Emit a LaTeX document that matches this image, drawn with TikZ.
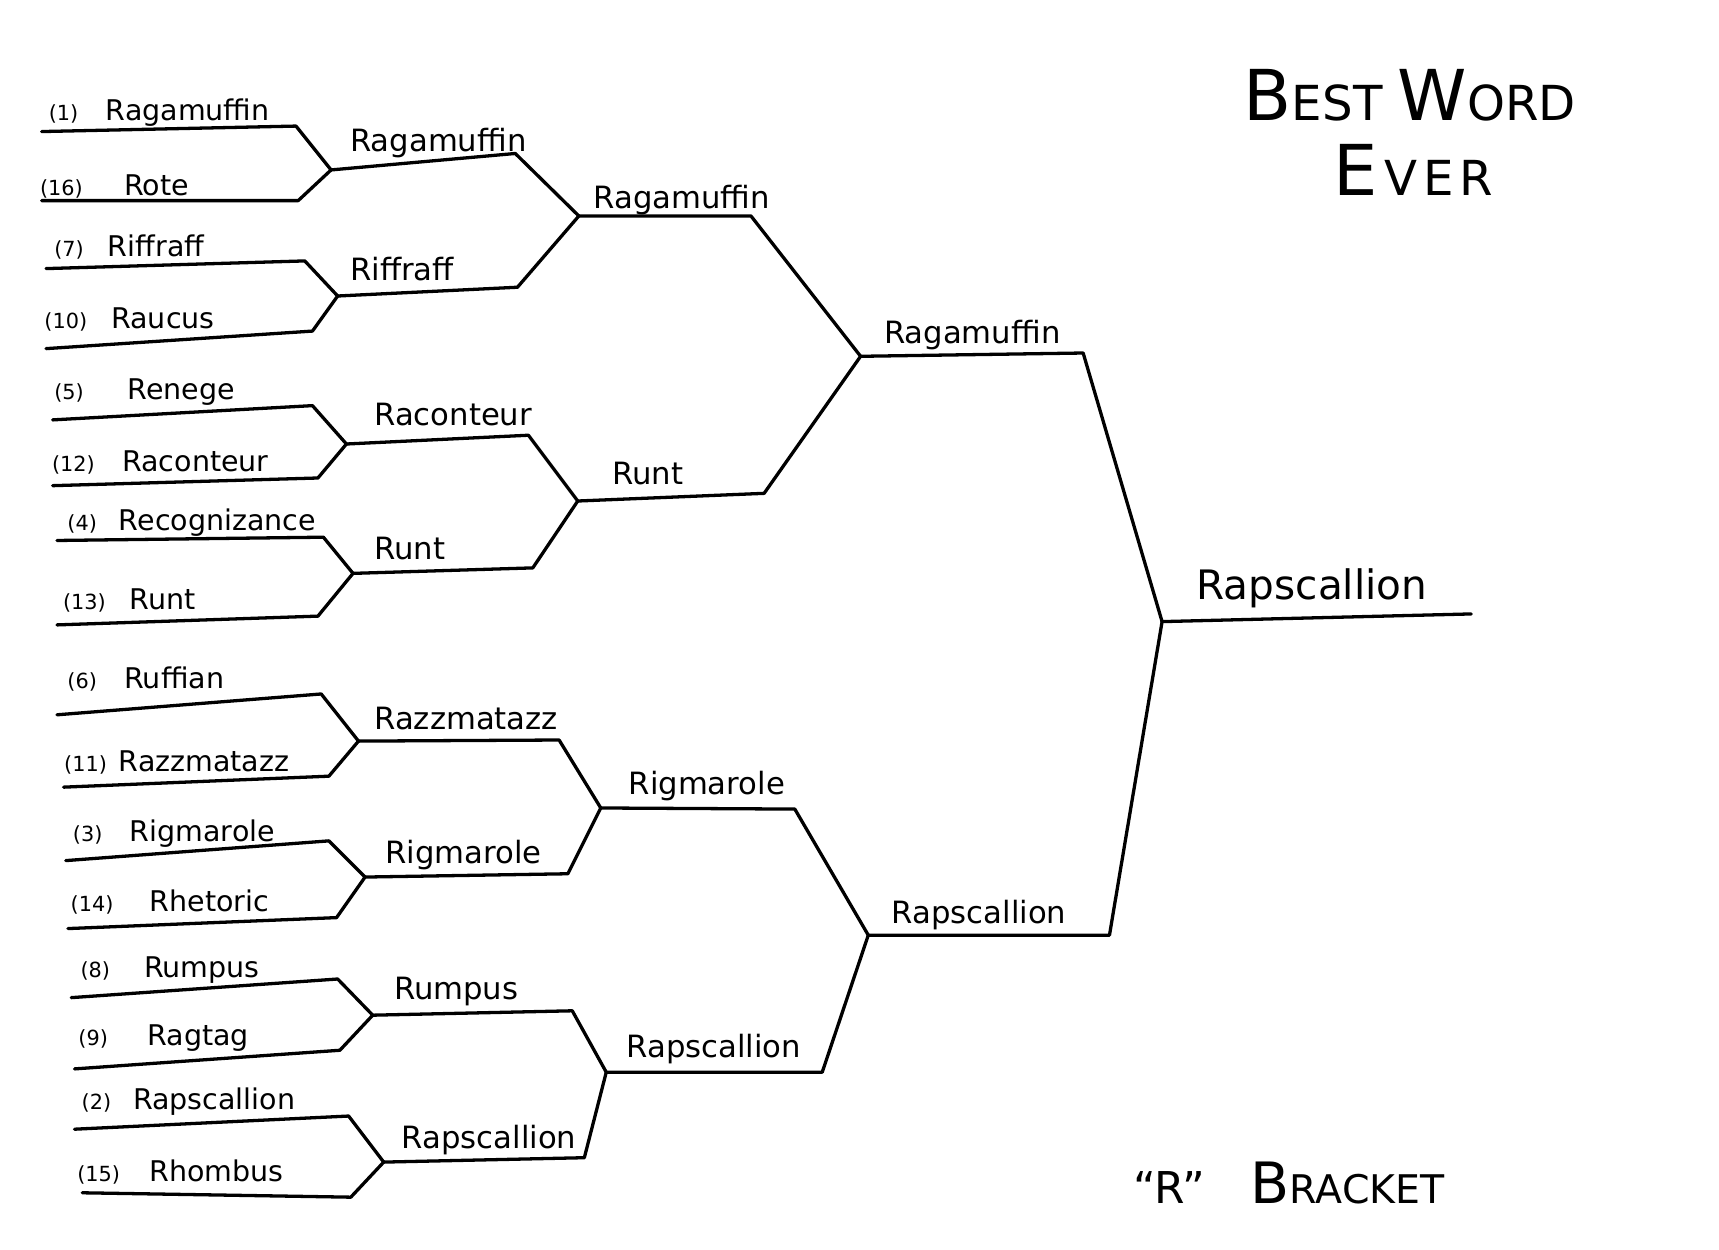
\documentclass[tikz,border=0pt]{standalone}
\usepackage{fontspec}
\setmainfont{DejaVu Sans}
\newcommand\hcap[2]{{\fontsize{#1}{#1}\selectfont #2}}
\begin{document}
\begin{tikzpicture}[x=1pt,y=-1pt,line width=3pt,line cap=round,line join=round,
    seed/.style={font=\fontsize{19}{19}\selectfont,anchor=base,inner sep=0pt},
    word/.style={font=\fontsize{26}{26}\selectfont,anchor=base west,inner sep=0pt},
    pick/.style={word,font=\fontsize{28}{28}\selectfont},
    champ/.style={word,font=\fontsize{37}{37}\selectfont},
    head/.style={anchor=base west,inner sep=0pt}]
\useasboundingbox (0,0) rectangle (1568,1140);
% first round
\foreach \i/\s/\w/\a/\b/\y/\sx/\sy/\tx/\ty in {
    1/1/Ragamuffin/58/95/110/38/120/270/115,
    2/16/Rote/56/112/178/38/183/272/183,
    3/7/Riffraff/63/97/234/42/245/278/238,
    4/10/Raucus/60/100/300/42/318/285/302,
    5/5/Renege/63/115/364/48/383/285/370,
    6/12/Raconteur/67/110/430/48/443/290/436,
    7/4/Recognizance/75/107/484/52/493/295/490,
    8/13/Runt/77/117/556/52/570/290/562,
    9/6/Ruffian/75/112/628/52/652/293/633,
    10/11/Razzmatazz/78/107/704/58/718/300/708,
    11/3/Rigmarole/80/117/768/60/785/300/767,
    12/14/Rhetoric/84/135/831/62/847/307/837,
    13/8/Rumpus/87/130/892/65/910/308/893,
    14/9/Ragtag/85/133/954/68/975/310/958,
    15/2/Rapscallion/88/120/1012/68/1030/318/1018,
    16/15/Rhombus/90/135/1078/75/1088/320/1092}{
  \coordinate (s\i) at (\sx,\sy);
  \coordinate (t\i) at (\tx,\ty);
  \node[seed] (n\i) at (\a,\y) {(\s)};
  \node[word] (w\i) at (\b,\y) {\w};
}
\foreach \j/\x/\y in {1/302/155,2/308/270,3/316/405,4/322/523,5/327/676,6/333/800,7/340/926,8/350/1060}
  \coordinate (m\j) at (\x,\y);
\foreach \i in {1,...,16}{
  \pgfmathtruncatemacro\j{(\i+1)/2}
  \draw (s\i) -- (t\i) -- (m\j);
}
% second round
\foreach \j/\x/\y/\lx/\ly/\w in {
    1/470/140/318/138/Ragamuffin,
    2/472/262/318/256/Riffraff,
    3/482/397/340/388/Raconteur,
    4/486/518/340/510/Runt,
    5/510/675/340/665/Razzmatazz,
    6/518/797/350/788/Rigmarole,
    7/522/922/358/912/Rumpus,
    8/533/1056/365/1048/Rapscallion}{
  \coordinate (u\j) at (\x,\y);
  \node[pick] (p\j) at (\lx,\ly) {\w};
}
\foreach \k/\x/\y in {1/528/197,2/527/457,3/548/737,4/553/978}
  \coordinate (q\k) at (\x,\y);
\foreach \j in {1,...,8}{
  \pgfmathtruncatemacro\k{(\j+1)/2}
  \draw (m\j) -- (u\j) -- (q\k);
}
% quarter finals
\foreach \k/\x/\y/\lx/\ly/\w in {
    1/685/197/540/190/Ragamuffin,
    2/697/450/557/442/Runt,
    3/725/738/572/725/Rigmarole,
    4/750/978/570/965/Rapscallion}{
  \coordinate (v\k) at (\x,\y);
  \node[pick] (r\k) at (\lx,\ly) {\w};
}
\coordinate (h1) at (785,325);
\coordinate (h2) at (792,853);
\foreach \k/\l in {1/1,2/1,3/2,4/2}
  \draw (q\k) -- (v\k) -- (h\l);
% semi finals and final
\coordinate (z1) at (988,322);
\coordinate (z2) at (1012,853);
\coordinate (f) at (1060,567);
\coordinate (c) at (1342,560);
\node[pick] (semi1) at (805,313) {Ragamuffin};
\node[pick] (semi2) at (812,842) {Rapscallion};
\node[champ] (win) at (1090,547) {Rapscallion};
\foreach \l in {1,2}
  \draw (h\l) -- (z\l) -- (f);
\draw (f) -- (c);
% titles
\node[head] (title1) at (1133,110) {\hcap{64}{B}\hcap{44}{EST\ }\hcap{64}{W}\hcap{44}{ORD}};
\node[head] (title2) at (1215,178) {\hcap{64}{E}\hspace{6pt}\hcap{44}{V\hspace{5pt}E\hspace{5pt}R}};
\node[head] (sub) at (1032,1098) {\hcap{40}{“R”}\hspace{42pt}\hcap{52}{B}\hcap{36}{RACKET}};
\end{tikzpicture}
\end{document}
